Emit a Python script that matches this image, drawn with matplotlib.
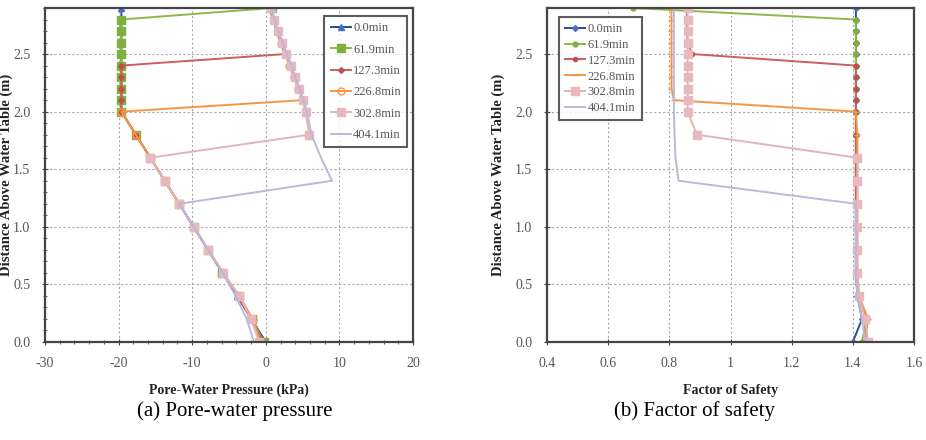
import matplotlib.pyplot as plt
from matplotlib.ticker import MultipleLocator, FormatStrFormatter

plt.rcParams['font.family'] = ['Liberation Serif', 'DejaVu Serif']
plt.rcParams['axes.unicode_minus'] = False

# heights above water table (m)
z = [0.0, 0.2, 0.4, 0.6, 0.8, 1.0, 1.2, 1.4, 1.6, 1.8,
     2.0, 2.1, 2.2, 2.3, 2.4, 2.5, 2.6, 2.7, 2.8, 2.9]

labels = ['0.0min', '61.9min', '127.3min', '226.8min', '302.8min', '404.1min']

# pore-water pressure (kPa)
pwp_0 = [0.0, -1.96, -3.92, -5.89, -7.85, -9.81, -11.77, -13.73, -15.70, -17.66,
         -19.62, -19.62, -19.62, -19.62, -19.62, -19.62, -19.62, -19.62, -19.62, -19.62]
pwp_62 = [-0.3, -1.9, -3.7, -5.89, -7.85, -9.81, -11.77, -13.73, -15.70, -17.66,
          -19.62, -19.62, -19.62, -19.62, -19.62, -19.62, -19.62, -19.62, -19.62, 0.8]
pwp_127 = [-0.5, -1.9, -3.8, -5.89, -7.85, -9.81, -11.77, -13.73, -15.70, -17.66,
           -19.62, -19.62, -19.62, -19.62, -19.62, 2.6, 2.0, 1.5, 1.0, 0.5]
pwp_227 = [-0.7, -1.8, -3.6, -5.8, -7.8, -9.8, -11.77, -13.73, -15.70, -17.66,
           -19.62, 5.0, 4.4, 3.8, 3.2, 2.7, 2.1, 1.6, 1.1, 0.6]
pwp_303 = [-0.9, -2.0, -3.6, -5.8, -7.8, -9.8, -11.77, -13.73, -15.70, 5.9,
           5.4, 5.0, 4.5, 3.9, 3.4, 2.8, 2.2, 1.6, 1.1, 0.7]
pwp_404 = [-1.6, -2.6, -4.1, -5.9, -7.85, -9.81, -11.77, 9.0, 7.5, 6.2,
           5.6, 5.1, 4.6, 4.0, 3.5, 2.9, 2.3, 1.7, 1.2, 0.8]

# factor of safety
fs_0 = [1.40, 1.43, 1.415, 1.41, 1.41, 1.41, 1.41, 1.41, 1.41, 1.41,
        1.41, 1.41, 1.41, 1.41, 1.41, 1.41, 1.41, 1.41, 1.41, 1.41]
fs_62 = [1.43, 1.445, 1.42, 1.41, 1.41, 1.41, 1.41, 1.41, 1.41, 1.41,
         1.41, 1.41, 1.41, 1.41, 1.41, 1.41, 1.41, 1.41, 1.41, 0.68]
fs_127 = [1.44, 1.445, 1.42, 1.41, 1.41, 1.41, 1.41, 1.41, 1.41, 1.41,
          1.41, 1.41, 1.41, 1.41, 1.41, 0.875, 0.86, 0.857, 0.857, 0.857]
fs_227 = [1.44, 1.45, 1.42, 1.415, 1.415, 1.415, 1.415, 1.415, 1.415, 1.415,
          1.41, 0.815, 0.807, 0.807, 0.807, 0.807, 0.807, 0.807, 0.807, 0.807]
fs_303 = [1.45, 1.44, 1.42, 1.415, 1.415, 1.415, 1.415, 1.415, 1.415, 0.89,
          0.86, 0.86, 0.86, 0.86, 0.86, 0.86, 0.86, 0.86, 0.86, 0.86]
fs_404 = [1.44, 1.43, 1.415, 1.41, 1.41, 1.41, 1.41, 0.83, 0.82, 0.817,
          0.815, 0.815, 0.815, 0.815, 0.815, 0.815, 0.815, 0.815, 0.815, 0.815]

colors = ['#2B4F8C', '#8DB84A', '#C9605C', '#F79646', '#E3B3B8', '#B9B9DC']
mcolors = ['#4472C4', '#7FAF3F', '#C0504D', '#F79646', '#E8B8BE', '#B9B9DC']

fig = plt.figure(figsize=(9.26, 4.4), dpi=100)
ax1 = fig.add_axes([45/926, 98/440, 368/926, 334/440])
ax2 = fig.add_axes([547/926, 98/440, 367/926, 334/440])

# (a) pore-water pressure
pwp = [pwp_0, pwp_62, pwp_127, pwp_227, pwp_303, pwp_404]
mk1 = [dict(marker='^', ms=5), dict(marker='s', ms=6), dict(marker='D', ms=3),
       dict(marker='o', ms=5, mfc='none'), dict(marker='s', ms=6), dict(marker='')]
for vals, lab, c, mc, m in zip(pwp, labels, colors, mcolors, mk1):
    kw = dict(m)
    kw.setdefault('mfc', mc)
    ax1.plot(vals, z, color=c, lw=1.4, mec=mc, label=lab, **kw)

# (b) factor of safety
fs = [fs_0, fs_62, fs_127, fs_227, fs_303, fs_404]
mk2 = [dict(marker='D', ms=3), dict(marker='o', ms=3.5), dict(marker='o', ms=3),
       dict(marker='_', ms=5), dict(marker='s', ms=6), dict(marker='')]
for vals, lab, c, mc, m in zip(fs, labels, colors, mcolors, mk2):
    ax2.plot(vals, z, color=c, lw=1.4, mfc=mc, mec=mc, label=lab, **m)

for ax in (ax1, ax2):
    ax.set_ylim(0, 2.9)
    ax.yaxis.set_major_locator(MultipleLocator(0.5))
    ax.yaxis.set_major_formatter(FormatStrFormatter('%.1f'))
    ax.grid(True, color='#aaaaaa', ls=(0, (2, 2)), lw=0.8)
    for s in ax.spines.values():
        s.set_color('#444444')
        s.set_linewidth(1.6)
    ax.tick_params(which='both', direction='inout', color='#444444',
                   labelsize=10, labelcolor='#555555', pad=8)
    ax.tick_params(which='major', length=5)
    ax.tick_params(which='minor', length=3)
    ax.set_ylabel('Distance Above Water Table (m)', fontsize=10.5, fontweight='bold',
                  color='#222222')

ax1.set_xlim(-30, 20)
ax1.xaxis.set_major_locator(MultipleLocator(10))
ax1.xaxis.set_minor_locator(MultipleLocator(2))
ax1.yaxis.set_minor_locator(MultipleLocator(0.1))
ax1.set_xlabel('Pore-Water Pressure (kPa)', fontsize=10, fontweight='bold', color='#222222')
ax1.yaxis.set_label_coords(-0.088, 0.5)
ax1.xaxis.set_label_coords(0.5, -0.125)

ax2.set_xlim(0.4, 1.6)
ax2.xaxis.set_major_locator(MultipleLocator(0.2))
ax2.xaxis.set_major_formatter(plt.FuncFormatter(lambda v, p: '%g' % round(v, 2)))
ax2.set_xlabel('Factor of Safety', fontsize=10, fontweight='bold', color='#222222')
ax2.yaxis.set_label_coords(-0.115, 0.5)
ax2.xaxis.set_label_coords(0.5, -0.125)

leg_kw = dict(fontsize=9, frameon=True, fancybox=False, borderaxespad=0,
              handlelength=1.6, handletextpad=0.2, labelcolor='#555555', borderpad=0.5)
l1 = ax1.legend(loc='upper right', bbox_to_anchor=(0.984, 0.976),
                labelspacing=0.75, **leg_kw)
l2 = ax2.legend(loc='upper left', bbox_to_anchor=(0.033, 0.973),
                labelspacing=0.3, **leg_kw)
for lg in (l1, l2):
    lg.get_frame().set_edgecolor('#333333')
    lg.get_frame().set_linewidth(1.5)

fig.text(235/926, 1 - 411/440, '(a) Pore-water pressure', ha='center', va='center', fontsize=15)
fig.text(694/926, 1 - 411/440, '(b) Factor of safety', ha='center', va='center', fontsize=15)

fig.savefig('out.png', dpi=100)
